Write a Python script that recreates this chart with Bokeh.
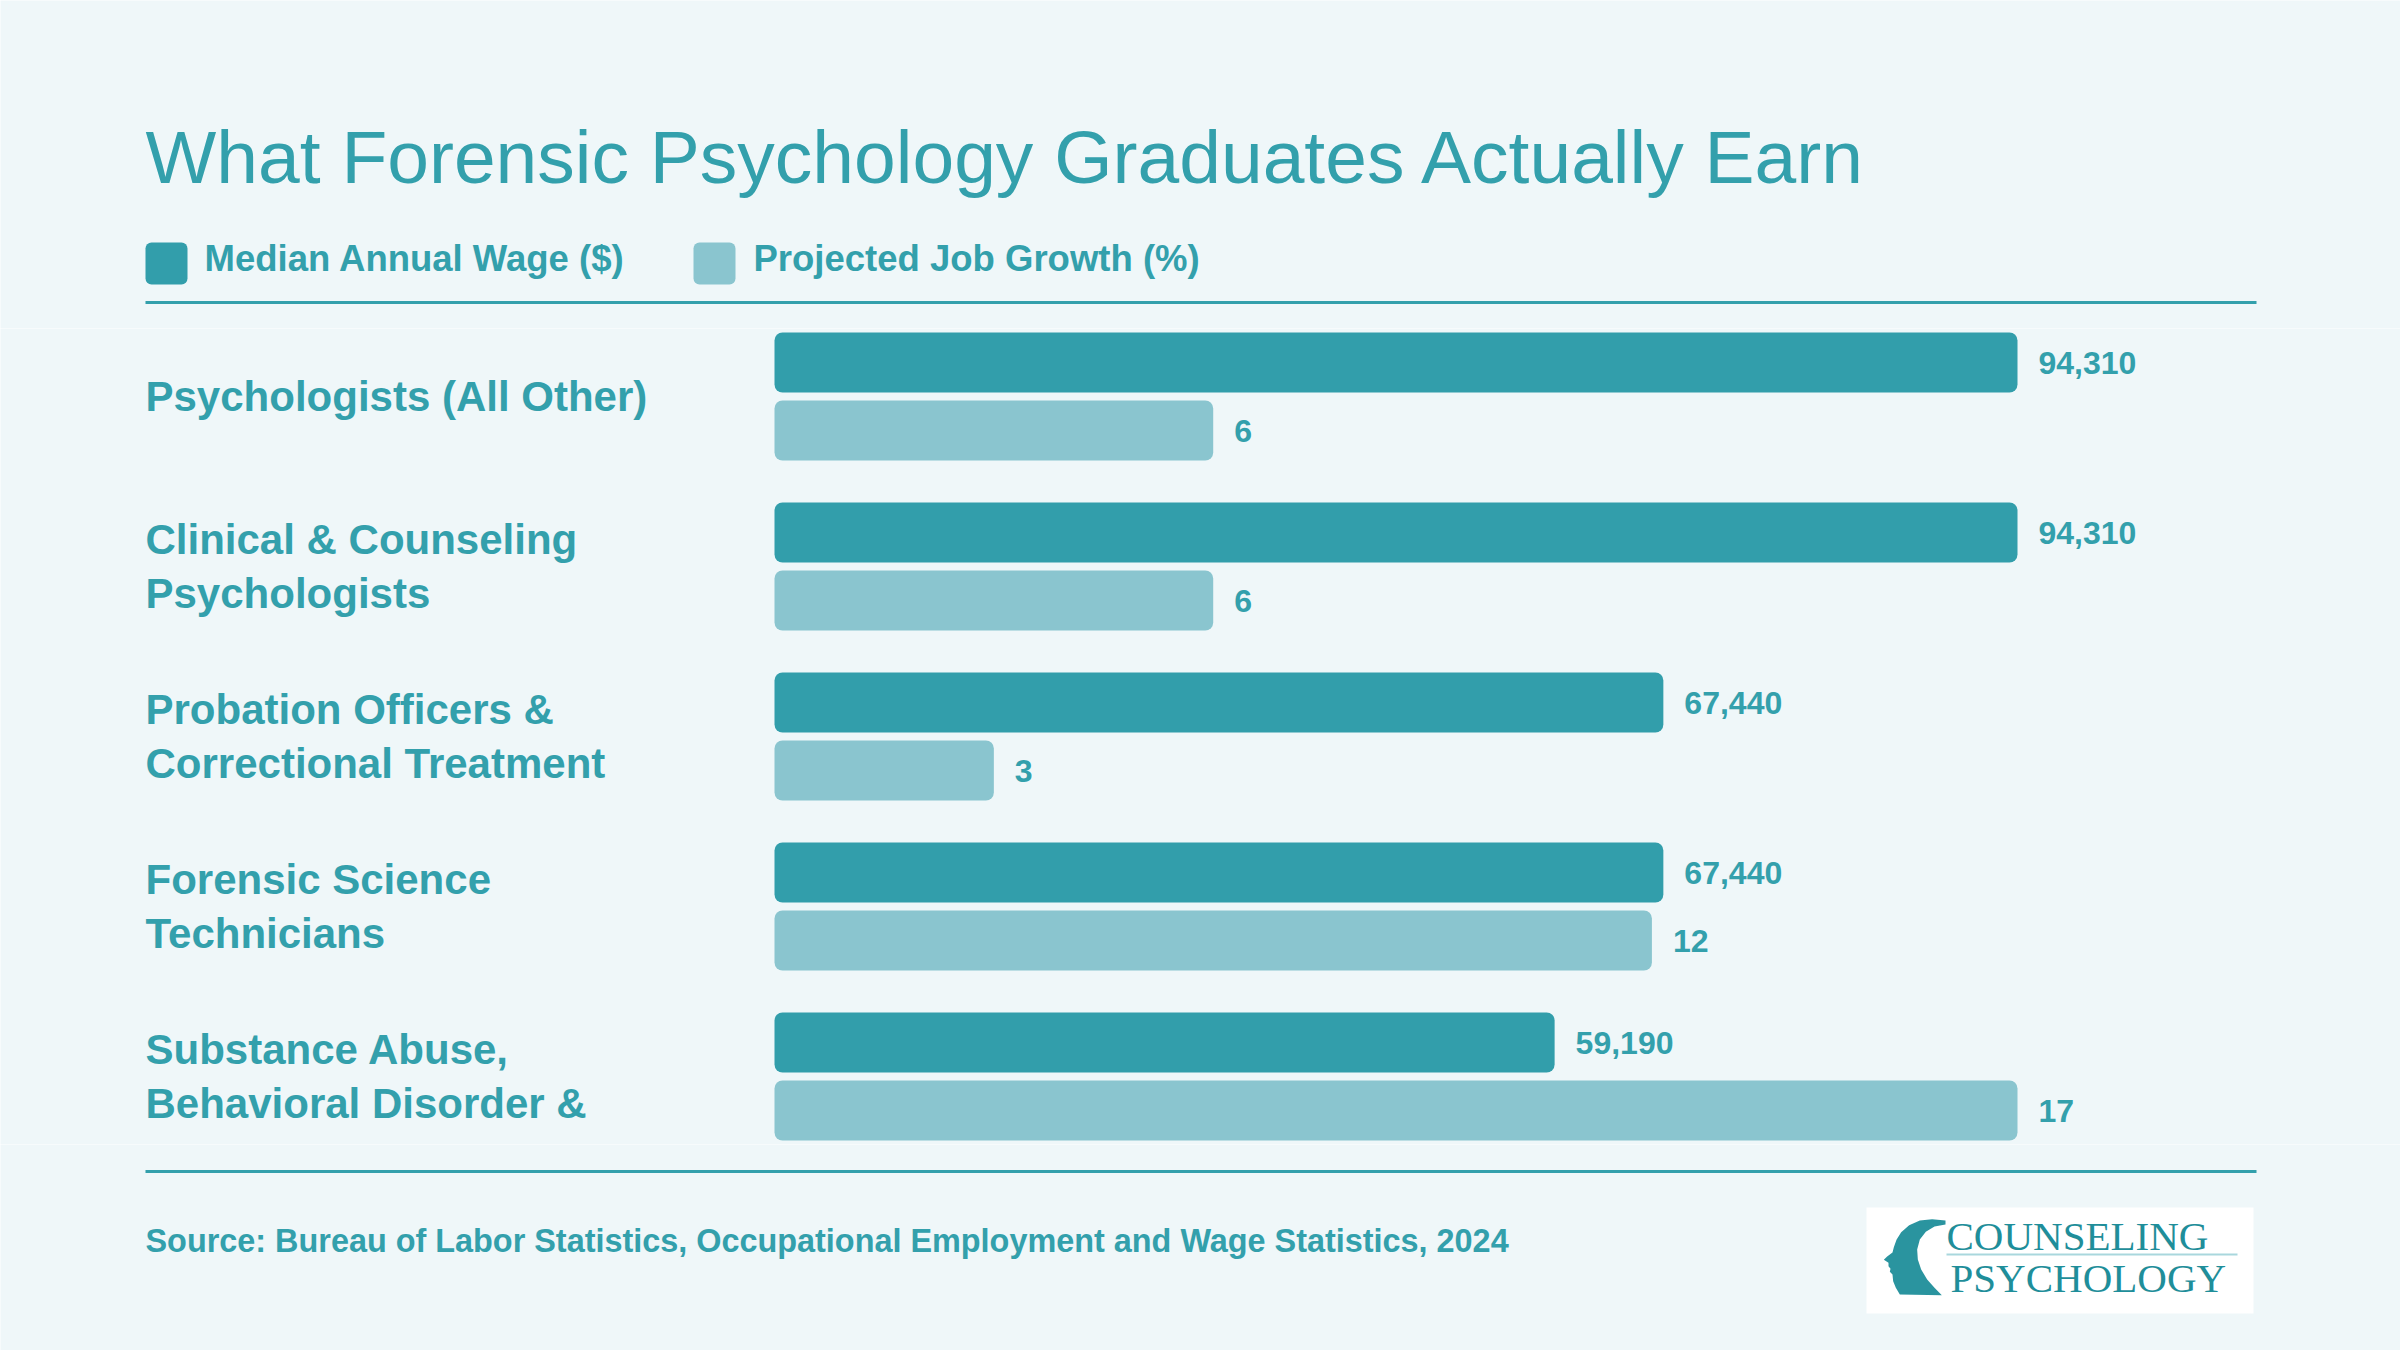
from bokeh.plotting import figure
from bokeh.models import Range1d, FactorRange
from bokeh.layouts import column
from bokeh.embed import file_html
from bokeh.resources import INLINE
from bokeh.core.properties import value

# ---------------- data ----------------
title_text = "What Forensic Psychology Graduates Actually Earn"
series_names = ["Median Annual Wage ($)", "Projected Job Growth (%)"]
series_keys = ["wage", "growth"]
categories = [
    "Psychologists (All Other)",
    "Clinical & Counseling Psychologists",
    "Probation Officers & Correctional Treatment",
    "Forensic Science Technicians",
    "Substance Abuse, Behavioral Disorder &",
]
category_labels = [
    "Psychologists (All Other)",
    "Clinical & Counseling\nPsychologists",
    "Probation Officers &\nCorrectional Treatment",
    "Forensic Science\nTechnicians",
    "Substance Abuse,\nBehavioral Disorder &",
]
wage = [94310, 94310, 67440, 67440, 59190]
growth = [6, 6, 3, 12, 17]
source_text = "Source: Bureau of Labor Statistics, Occupational Employment and Wage Statistics, 2024"
logo_lines = ["COUNSELING", "PSYCHOLOGY"]

# ---------------- style ----------------
BG = "#EFF7F9"
DARK = "#329EAB"
LIGHT = "#8AC5CF"
TEXT = "#33A0AC"
LOGO = "#1F8E9A"
FONT = value("Liberation Sans")
SERIF = value("Liberation Serif")

W = 2400
H_HEAD, H_CHART, H_FOOT = 328, 816, 206
LEFT = 145
RIGHT = 2256
BAR_X0 = 774
BAR_LEN = 1243


def base(h, xr, yr):
    p = figure(width=W, height=h, x_range=xr, y_range=yr, output_backend="svg",
               toolbar_location=None, min_border=0, x_axis_location=None,
               y_axis_location=None, background_fill_color=BG, border_fill_color=BG,
               outline_line_color=None)
    p.xgrid.visible = False
    p.ygrid.visible = False
    return p


# ---------------- header ----------------
head = base(H_HEAD, Range1d(0, W), Range1d(0, H_HEAD))


def hy(y):
    return H_HEAD - y


head.text(x=[LEFT], y=[hy(156)], text=[title_text], text_font=FONT, text_font_size="75px",
          text_color=TEXT, text_baseline="middle", text_align="left")
head.quad(left=[145, 693], right=[187, 735], top=[hy(242)] * 2, bottom=[hy(284)] * 2,
          fill_color=[DARK, LIGHT], line_color=None, border_radius=6)
head.text(x=[204, 753], y=[hy(258)] * 2, text=series_names, text_font=FONT,
          text_font_size="36.5px", text_font_style="bold", text_color=TEXT,
          text_baseline="middle", text_align="left")
head.line(x=[LEFT, RIGHT], y=[hy(302)] * 2, line_width=3, line_color=TEXT)

# ---------------- chart ----------------
factors = [(c, s) for c in categories for s in series_keys]
yr = FactorRange(factors=list(reversed(factors)), range_padding=0, group_padding=0.5,
                 factor_padding=0)
kw = max(wage) / BAR_LEN
kg = max(growth) / BAR_LEN
chart = base(H_CHART, Range1d(-BAR_X0 * kw, (W - BAR_X0) * kw), yr)
chart.extra_x_ranges = {
    "growth": Range1d(-BAR_X0 * kg, (W - BAR_X0) * kg),
    "px": Range1d(0, W),
}

wy = [(c, "wage") for c in categories]
gy = [(c, "growth") for c in categories]
BH = 60 / 68
chart.hbar(y=wy, left=0, right=wage, height=BH, fill_color=DARK, line_color=None,
           border_radius=8)
chart.hbar(y=gy, left=0, right=growth, height=BH, fill_color=LIGHT, line_color=None,
           border_radius=8, x_range_name="growth")
chart.text(x=wage, y=wy, text=[f"{v:,}" for v in wage], x_offset=21, text_font=FONT,
           text_font_size="32px", text_font_style="bold", text_color=TEXT,
           text_baseline="middle", text_align="left")
chart.text(x=growth, y=gy, text=[str(v) for v in growth], x_offset=21, text_font=FONT,
           text_font_size="32px", text_font_style="bold", text_color=TEXT,
           text_baseline="middle", text_align="left", x_range_name="growth")
chart.text(x=[LEFT] * len(categories), y=categories, text=category_labels,
           x_range_name="px", text_font=FONT, text_font_size="42px",
           text_font_style="bold", text_color=TEXT, text_baseline="middle",
           text_align="left", text_line_height=1.143)

# ---------------- footer ----------------
foot = base(H_FOOT, Range1d(0, W), Range1d(0, H_FOOT))


def fy(y):
    return H_FOOT - (y - 1144)


foot.line(x=[LEFT, RIGHT], y=[fy(1171)] * 2, line_width=3, line_color=TEXT)
foot.text(x=[LEFT], y=[fy(1240)], text=[source_text], text_font=FONT,
          text_font_size="32.4px", text_font_style="bold", text_color=TEXT,
          text_baseline="middle", text_align="left")
foot.quad(left=[1866], right=[2253], top=[fy(1207)], bottom=[fy(1313)],
          fill_color="white", line_color=None)

# head silhouette of the logo (points in 3x zoom space of the logo box)
head_pts = [(255, 60), (215, 56), (178, 60), (146, 74), (122, 95), (108, 118), (100, 140),
            (96, 156), (80, 168), (70, 178), (84, 187), (84, 197), (90, 205), (88, 214),
            (96, 222), (98, 242), (106, 262), (118, 282), (244, 284), (222, 262),
            (200, 237), (182, 207), (172, 177), (170, 147), (178, 117), (196, 94),
            (222, 78), (255, 72)]
foot.patch(x=[1860 + px / 3 for px, _ in head_pts], y=[fy(1200 + py / 3) for _, py in head_pts],
           fill_color=LOGO, line_color=None, fill_alpha=0.95)
foot.text(x=[1946, 1950], y=[fy(1235), fy(1277.5)], text=logo_lines, text_font=SERIF,
          text_font_size="41px", text_color=LOGO, text_baseline="middle",
          text_align="left")
foot.line(x=[1946, 2237], y=[fy(1254)] * 2, line_width=2, line_color="#A9D7DD")

layout = column(head, chart, foot, spacing=0)
open("out.html", "w").write(file_html(layout, INLINE))
